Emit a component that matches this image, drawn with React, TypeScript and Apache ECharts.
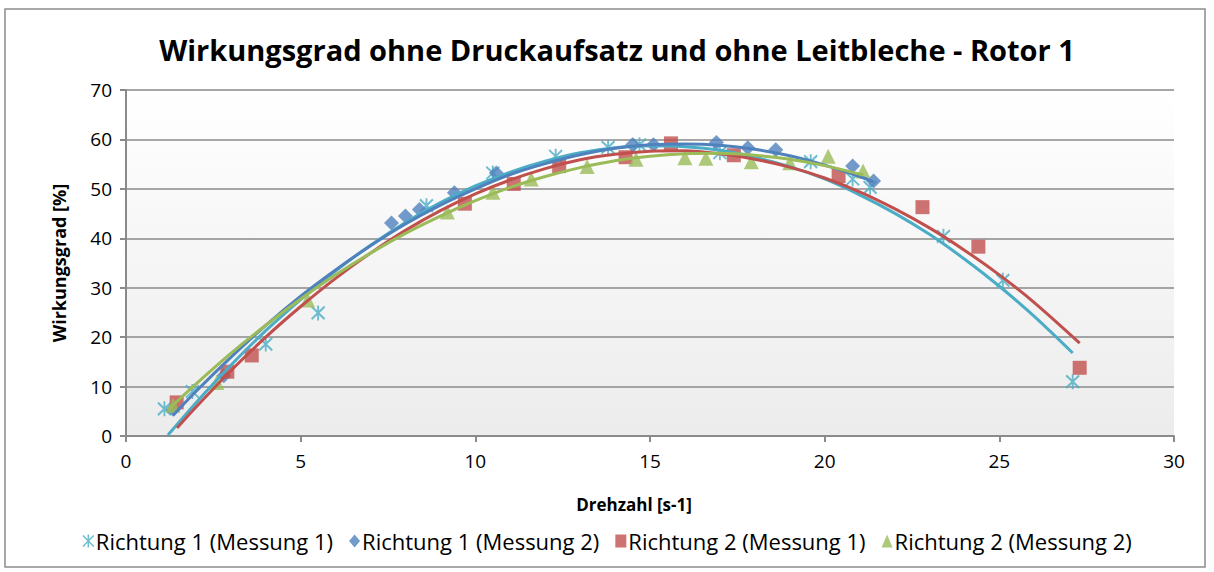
import React, { useEffect, useRef } from "react";
import * as echarts from "echarts";

const titleText = "Wirkungsgrad ohne Druckaufsatz und ohne Leitbleche - Rotor 1";
const xName = "Drehzahl [s-1]";
const yName = "Wirkungsgrad [%]";
const seriesNames = [
  "Richtung 1 (Messung 1)",
  "Richtung 1 (Messung 2)",
  "Richtung 2 (Messung 1)",
  "Richtung 2 (Messung 2)",
];
const colors = ["#4BACC6", "#4F81BD", "#C0504D", "#9BBB59"];

// measured points [Drehzahl, Wirkungsgrad]
const r1m1 = [
  [1.1, 5.5], [1.9, 9.0], [4.0, 18.6], [5.5, 24.9], [8.6, 46.6], [10.5, 53.2],
  [12.3, 56.6], [13.8, 58.4], [14.7, 58.9], [17.0, 57.3], [19.6, 55.5],
  [20.8, 52.0], [21.3, 50.3], [23.4, 40.4], [25.1, 31.5], [27.1, 11.0],
];
const r1m2 = [
  [1.35, 5.4], [2.8, 12.2], [7.6, 43.1], [8.0, 44.5], [8.4, 45.8], [9.4, 49.2],
  [10.6, 53.2], [14.5, 58.9], [15.1, 58.9], [16.9, 59.4], [17.8, 58.3],
  [18.6, 57.9], [20.8, 54.6], [21.4, 51.6],
];
const r2m1 = [
  [1.45, 6.8], [2.9, 13.0], [3.6, 16.3], [9.7, 47.0], [11.1, 51.0], [12.4, 54.6],
  [14.3, 56.4], [15.6, 59.2], [17.4, 56.8], [20.4, 52.6], [22.8, 46.3],
  [24.4, 38.3], [27.3, 13.8],
];
const r2m2 = [
  [1.35, 6.2], [2.6, 10.8], [5.2, 27.5], [9.2, 45.3], [10.5, 49.3], [11.6, 52.0],
  [13.2, 54.5], [14.6, 56.0], [16.0, 56.3], [16.6, 56.2], [17.9, 55.5],
  [19.0, 55.3], [20.1, 56.6], [21.1, 53.6],
];

// trend lines
const r1m1Trend = [
  [1.2, 0.2], [2, 6.7], [3, 14.3], [4, 21.3], [5, 27.6], [6, 33.4], [7, 38.6],
  [8, 43.2], [9, 47.2], [10, 50.6], [11, 53.4], [12, 55.6], [13, 57.3],
  [14, 58.3], [15, 58.7], [16, 58.5], [17, 57.8], [18, 56.4], [19, 54.5],
  [20, 52.0], [21, 48.8], [22, 45.1], [23, 40.8], [24, 35.8], [25, 30.3],
  [26, 24.2], [27.1, 16.8],
];
const r1m2Trend = [
  [1.35, 4.2], [2, 9.0], [3, 15.9], [4, 22.4], [5, 28.3], [6, 33.6], [7, 38.5],
  [8, 42.9], [9, 46.7], [10, 50.0], [11, 52.9], [12, 55.1], [13, 56.9],
  [14, 58.2], [15, 58.9], [16, 59.1], [17, 58.8], [18, 58.0], [19, 56.7],
  [20, 54.8], [21, 52.5], [21.4, 51.4],
];
const r2m1Trend = [
  [1.46, 1.6], [2, 5.8], [3, 13.2], [4, 20.0], [5, 26.2], [6, 31.9], [7, 37.0],
  [8, 41.6], [9, 45.6], [10, 49.0], [11, 51.8], [12, 54.1], [13, 55.9],
  [14, 57.0], [15, 57.6], [16, 57.7], [17, 57.1], [18, 56.0], [19, 54.4],
  [20, 52.2], [21, 49.4], [22, 46.0], [23, 42.1], [24, 37.6], [25, 32.6],
  [26, 27.0], [27.3, 18.8],
];
const r2m2Trend = [
  [1.2, 5.3], [2, 10.5], [3, 16.7], [4, 22.4], [5, 27.7], [6, 32.6], [7, 37.0],
  [8, 41.0], [9, 44.5], [10, 47.6], [11, 50.3], [12, 52.5], [13, 54.3],
  [14, 55.7], [15, 56.6], [16, 57.1], [17, 57.2], [18, 56.8], [19, 56.0],
  [20, 54.7], [21.1, 52.8],
];

const xMin = 0, xMax = 30, xStep = 5;
const yMin = 0, yMax = 70, yStep = 10;

const asterisk = "path://M0,1L10,11M10,1L0,11M5,0L5,12";
const symbols = [asterisk, "diamond", "rect", "triangle"];
const symbolSizes = [[13, 15], 15, 14, 15];
const points = [r1m1, r1m2, r2m1, r2m2];
const trends = [r1m1Trend, r1m2Trend, r2m1Trend, r2m2Trend];

export default function App() {
  const ref = useRef<HTMLDivElement>(null);
  useEffect(() => {
    const chart = echarts.init(ref.current!, null, { renderer: "svg" });
    const font = "'Open Sans', sans-serif";
    const scatterSeries = points.map((d, i) => ({
      type: "scatter",
      name: seriesNames[i],
      data: d,
      symbol: symbols[i],
      symbolSize: symbolSizes[i],
      z: 2,
      itemStyle:
        i === 0
          ? { color: "rgba(0,0,0,0)", borderColor: colors[0], borderWidth: 2 }
          : { color: colors[i] },
    }));
    const lineSeries = trends.map((d, i) => ({
      type: "line",
      name: seriesNames[i] + " Trend",
      data: d,
      showSymbol: false,
      symbol: "none",
      smooth: 0.3,
      z: 3,
      lineStyle: { color: colors[i], width: 3 },
      silent: true,
    }));
    chart.setOption({
      animation: false,
      backgroundColor: "#ffffff",
      title: {
        text: titleText,
        left: 612,
        textAlign: "center",
        top: 30,
        textStyle: { fontFamily: font, fontWeight: "bold", fontSize: 29, color: "#000" },
      },
      grid: {
        left: 126,
        right: 40,
        top: 90,
        bottom: 136,
        show: true,
        borderWidth: 0,
        backgroundColor: {
          type: "linear",
          x: 0, y: 0, x2: 0, y2: 1,
          colorStops: [
            { offset: 0, color: "#ffffff" },
            { offset: 1, color: "#ececec" },
          ],
        },
      },
      legend: {
        data: seriesNames.map((n, i) => ({
          name: n,
          icon: symbols[i],
          itemStyle:
            i === 0
              ? { color: "rgba(0,0,0,0)", borderColor: colors[0], borderWidth: 1.5 }
              : { color: colors[i] },
        })),
        bottom: 15,
        left: "center",
        itemWidth: 11,
        itemHeight: 13,
        itemGap: 16,
        textStyle: { fontFamily: font, fontSize: 22, color: "#000", padding: [0, 0, 0, -3] },
      },
      xAxis: {
        type: "value",
        min: xMin,
        max: xMax,
        interval: xStep,
        name: xName,
        nameLocation: "middle",
        nameGap: 60,
        nameTextStyle: {
          fontFamily: font, fontWeight: "bold", fontSize: 17, color: "#000",
          padding: [0, 32, 0, 0],
        },
        axisLine: { show: true, lineStyle: { color: "#8a8a8a", width: 2 } },
        axisTick: { show: true, length: 6, lineStyle: { color: "#8a8a8a", width: 2 } },
        axisLabel: { fontFamily: font, fontSize: 19, color: "#000", margin: 15 },
        splitLine: { show: false },
      },
      yAxis: {
        type: "value",
        min: yMin,
        max: yMax,
        interval: yStep,
        name: yName,
        nameLocation: "middle",
        nameGap: 58,
        nameRotate: 90,
        nameTextStyle: { fontFamily: font, fontWeight: "bold", fontSize: 18, color: "#000" },
        axisLine: { show: true, lineStyle: { color: "#8a8a8a", width: 2 } },
        axisTick: { show: true, length: 6, lineStyle: { color: "#8a8a8a", width: 2 } },
        axisLabel: { fontFamily: font, fontSize: 19, color: "#000", margin: 14 },
        splitLine: { show: true, lineStyle: { color: "#8a8a8a", width: 1.5 } },
      },
      graphic: [
        {
          type: "rect",
          shape: { x: 5, y: 9, width: 1200, height: 558 },
          style: { fill: "none", stroke: "#8c8c8c", lineWidth: 1.5 },
          silent: true,
          z: -1,
        },
      ],
      series: [...scatterSeries, ...lineSeries],
    });
    return () => chart.dispose();
  }, []);
  return (
    <div
      ref={ref}
      style={{ position: "absolute", left: 0, top: 0, width: 1214, height: 572, background: "#fff" }}
    />
  );
}
